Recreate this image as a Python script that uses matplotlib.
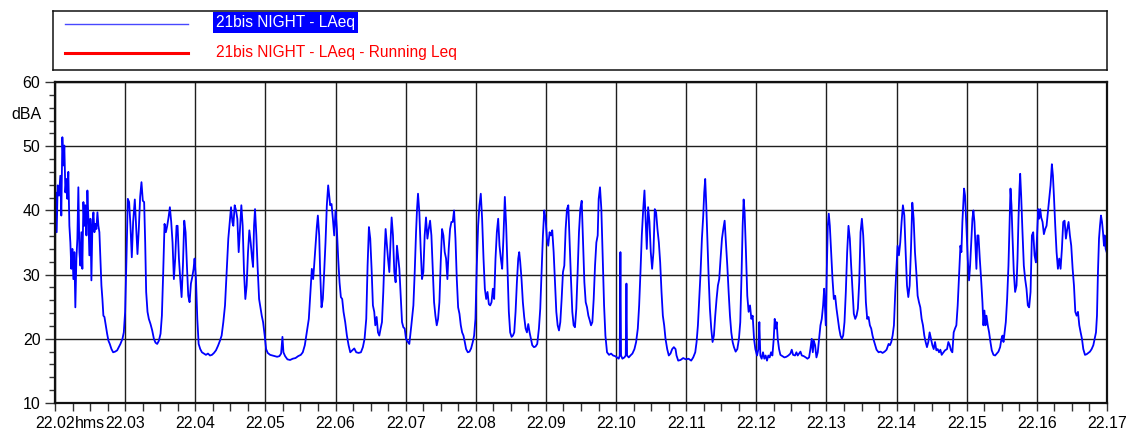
import matplotlib
matplotlib.use("Agg")
import matplotlib.pyplot as plt
from matplotlib.ticker import MultipleLocator
from matplotlib.lines import Line2D
from matplotlib.transforms import blended_transform_factory

plt.rcParams['font.family'] = ['Liberation Sans', 'DejaVu Sans']

series_name = "21bis NIGHT - LAeq"
running_name = "21bis NIGHT - LAeq - Running Leq"
y_unit = "dBA"
time_unit = "hms"
tick_labels = ["22.02", "22.03", "22.04", "22.05", "22.06", "22.07", "22.08", "22.09",
               "22.10", "22.11", "22.12", "22.13", "22.14", "22.15", "22.16", "22.17"]

# elapsed time in minutes after 22.02 and the measured LAeq in dBA
minutes = [
    0.0, 0.01, 0.024, 0.038, 0.057, 0.076, 0.09, 0.105, 0.12, 0.133, 0.148, 0.162, 0.176, 0.19,
    0.205, 0.219, 0.233, 0.248, 0.262, 0.276, 0.29, 0.305, 0.319, 0.333, 0.348, 0.362, 0.376, 0.39,
    0.405, 0.419, 0.433, 0.448, 0.462, 0.476, 0.49, 0.505, 0.519, 0.533, 0.548, 0.562, 0.576, 0.59,
    0.605, 0.619, 0.633, 0.648, 0.662, 0.676, 0.69, 0.705, 0.724, 0.743, 0.762, 0.781, 0.805, 0.829,
    0.857, 0.886, 0.91, 0.933, 0.962, 0.981, 1.0, 1.019, 1.038, 1.057, 1.076, 1.095, 1.114, 1.138,
    1.157, 1.176, 1.195, 1.214, 1.233, 1.252, 1.271, 1.286, 1.3, 1.319, 1.338, 1.362, 1.386, 1.41,
    1.433, 1.457, 1.481, 1.505, 1.524, 1.543, 1.562, 1.581, 1.6, 1.619, 1.638, 1.657, 1.676, 1.695,
    1.714, 1.733, 1.748, 1.767, 1.786, 1.805, 1.824, 1.843, 1.862, 1.881, 1.9, 1.919, 1.938, 1.957,
    1.976, 1.99, 2.01, 2.029, 2.048, 2.071, 2.095, 2.124, 2.152, 2.181, 2.21, 2.238, 2.267, 2.295,
    2.324, 2.352, 2.376, 2.4, 2.424, 2.448, 2.471, 2.495,
    2.51, 2.529, 2.543, 2.562, 2.581, 2.6, 2.619, 2.638, 2.657, 2.676, 2.695, 2.714, 2.733, 2.752,
    2.771, 2.79, 2.81, 2.824, 2.838, 2.852, 2.871, 2.89, 2.91, 2.929, 2.948, 2.967, 2.99, 3.01,
    3.033, 3.067, 3.1, 3.133, 3.167, 3.2, 3.224, 3.243, 3.257, 3.281, 3.314, 3.352, 3.39, 3.429,
    3.467, 3.505, 3.533, 3.562, 3.59, 3.619, 3.643, 3.662, 3.681, 3.695, 3.714, 3.733, 3.748, 3.767,
    3.781, 3.8, 3.819, 3.838, 3.857, 3.876, 3.895, 3.91, 3.924, 3.943, 3.962, 3.981, 4.0, 4.019,
    4.038, 4.057, 4.076, 4.095, 4.114, 4.138, 4.162, 4.186, 4.21, 4.238, 4.267, 4.295, 4.329, 4.362,
    4.39, 4.414, 4.438, 4.457, 4.476, 4.495, 4.514, 4.533, 4.552, 4.567, 4.586, 4.605, 4.624, 4.643,
    4.662, 4.681, 4.7, 4.714, 4.733, 4.748, 4.767, 4.786, 4.8, 4.819, 4.838, 4.857, 4.876, 4.89,
    4.91, 4.929, 4.948, 4.967, 4.986, 5.005,
    5.019, 5.052, 5.081, 5.11, 5.129, 5.148, 5.162, 5.176, 5.195, 5.214, 5.233, 5.252, 5.271, 5.29,
    5.31, 5.329, 5.348, 5.367, 5.386, 5.405, 5.424, 5.443, 5.462, 5.481, 5.5, 5.519, 5.538, 5.557,
    5.576, 5.595, 5.614, 5.633, 5.652, 5.671, 5.69, 5.71, 5.729, 5.748, 5.767, 5.786, 5.805, 5.824,
    5.843, 5.862, 5.886, 5.91, 5.933, 5.957, 5.976, 5.995, 6.014, 6.033, 6.052, 6.071, 6.09, 6.11,
    6.129, 6.148, 6.167, 6.186, 6.205, 6.224, 6.243, 6.262, 6.281, 6.3, 6.319, 6.338, 6.357, 6.376,
    6.395, 6.414, 6.433, 6.452, 6.471, 6.49, 6.51, 6.529, 6.548, 6.567, 6.586, 6.605, 6.619, 6.633,
    6.652, 6.671, 6.69, 6.71, 6.729, 6.748, 6.767, 6.786, 6.805, 6.829, 6.852, 6.876, 6.9, 6.919,
    6.938, 6.957, 6.976, 6.995, 7.014, 7.033, 7.052, 7.071, 7.09, 7.11, 7.129, 7.148, 7.167, 7.186,
    7.205, 7.224, 7.243, 7.262, 7.281, 7.3, 7.319, 7.338, 7.357, 7.376, 7.395, 7.414, 7.433, 7.452,
    7.471, 7.49, 7.51,
    7.529, 7.548, 7.567, 7.586, 7.605, 7.624, 7.643, 7.662, 7.681, 7.7, 7.719, 7.738, 7.752, 7.771,
    7.79, 7.81, 7.829, 7.848, 7.871, 7.9, 7.929, 7.957, 7.986, 8.014, 8.038, 8.052, 8.062, 8.071,
    8.09, 8.119, 8.138, 8.148, 8.157, 8.181, 8.205, 8.233, 8.262, 8.286, 8.31, 8.329, 8.348, 8.367,
    8.386, 8.405, 8.424, 8.438, 8.457, 8.476, 8.495, 8.514, 8.533, 8.552, 8.571, 8.59, 8.61, 8.629,
    8.648, 8.667, 8.686, 8.705, 8.729, 8.752, 8.776, 8.8, 8.824, 8.848, 8.862, 8.886, 8.919, 8.957,
    8.995, 9.033, 9.071, 9.1, 9.129, 9.148, 9.167, 9.186, 9.205, 9.224, 9.243, 9.257, 9.271, 9.286,
    9.3, 9.319, 9.338, 9.357, 9.376, 9.395, 9.414, 9.433, 9.452, 9.471, 9.49, 9.51, 9.529, 9.548,
    9.567, 9.586, 9.605, 9.624, 9.643, 9.662, 9.681, 9.705, 9.729, 9.752, 9.771, 9.79, 9.805, 9.819,
    9.833, 9.852, 9.871, 9.89, 9.91, 9.929, 9.948, 9.967, 9.986,
    10.01, 10.029, 10.043, 10.057, 10.076, 10.095, 10.114, 10.133, 10.152, 10.171, 10.19, 10.21,
    10.229, 10.248, 10.262, 10.276, 10.29, 10.305, 10.324, 10.343, 10.371, 10.4, 10.429, 10.457,
    10.486, 10.505, 10.524, 10.552, 10.571, 10.59, 10.61, 10.629, 10.648, 10.676, 10.705, 10.729,
    10.752, 10.771, 10.79, 10.805, 10.819, 10.838, 10.857, 10.876, 10.895, 10.914, 10.933, 10.952,
    10.967, 10.981, 10.99, 11.005, 11.019, 11.033, 11.048, 11.067, 11.086, 11.105, 11.124, 11.143,
    11.162, 11.181, 11.2, 11.219, 11.238, 11.257, 11.276, 11.295, 11.314, 11.333, 11.352, 11.371,
    11.39, 11.41, 11.429, 11.448, 11.467, 11.486, 11.505, 11.524, 11.543, 11.562, 11.581, 11.6,
    11.619, 11.638, 11.657, 11.676, 11.695, 11.714, 11.743, 11.771, 11.8, 11.829, 11.857, 11.886,
    11.905, 11.924, 11.943, 11.962, 11.981, 12.0, 12.014, 12.033, 12.052, 12.071, 12.09, 12.11,
    12.129, 12.148, 12.167, 12.186, 12.205, 12.224, 12.243, 12.262, 12.281, 12.3, 12.319, 12.338,
    12.357, 12.376, 12.395, 12.414, 12.433, 12.452, 12.471,
    12.51, 12.529, 12.548, 12.567, 12.586, 12.605, 12.624, 12.643, 12.662, 12.69, 12.719, 12.738,
    12.757, 12.776, 12.795, 12.814, 12.833, 12.852, 12.871, 12.89, 12.91, 12.924, 12.938, 12.952,
    12.962, 12.976, 12.995, 13.014, 13.033, 13.048, 13.067, 13.081, 13.095, 13.11, 13.124, 13.138,
    13.152, 13.167, 13.186, 13.205, 13.224, 13.238, 13.252, 13.267, 13.281, 13.3, 13.319, 13.338,
    13.357, 13.381, 13.405, 13.429, 13.452, 13.476, 13.495, 13.51, 13.524, 13.538, 13.557, 13.576,
    13.595, 13.61, 13.624, 13.638, 13.652, 13.671, 13.69, 13.71, 13.724, 13.738, 13.752, 13.762,
    13.776, 13.795, 13.814, 13.833, 13.852, 13.871, 13.89, 13.91, 13.929, 13.948, 13.967, 13.986,
    14.005, 14.019, 14.033, 14.048, 14.062, 14.081, 14.1, 14.119, 14.138, 14.157, 14.176, 14.195,
    14.214, 14.229, 14.243, 14.262, 14.281, 14.3, 14.319, 14.338, 14.357, 14.376, 14.395, 14.414,
    14.433, 14.452, 14.471, 14.49, 14.51, 14.529, 14.548, 14.567, 14.586, 14.605, 14.624, 14.643,
    14.662, 14.686, 14.71, 14.733, 14.757, 14.781, 14.805, 14.824, 14.843, 14.857, 14.871, 14.886,
    14.9, 14.914, 14.929, 14.943, 14.957, 14.967, 14.981, 14.995,
]

laeq = [
    39.7, 42.8, 36.6, 43.9, 42.3, 45.4, 39.2, 51.4, 47.0, 50.1, 42.8, 44.9, 41.8, 46.0,
    37.6, 35.0, 30.9, 34.0, 29.3, 33.5, 24.9, 32.5, 35.6, 43.6, 33.5, 31.4, 36.6, 30.9,
    41.3, 37.6, 40.8, 36.1, 43.1, 38.7, 33.0, 38.7, 29.1, 37.6, 39.7, 36.6, 37.9, 37.1,
    39.7, 37.6, 36.6, 32.5, 28.3, 26.2, 23.6, 23.4, 22.1, 20.8, 19.7, 19.2, 18.4, 17.9,
    18.0, 18.2, 18.7, 19.2, 20.0, 21.0, 24.2, 32.5, 41.8, 41.3, 37.6, 32.7, 38.2, 41.7,
    37.6, 33.2, 37.1, 42.1, 44.4, 41.5, 41.3, 35.0, 27.3, 24.2, 23.1, 22.3, 21.3, 20.0,
    19.4, 19.2, 19.7, 20.8, 23.6, 30.4, 37.9, 36.6, 37.6, 38.9, 40.5, 38.2, 35.0, 29.3,
    32.5, 37.6, 37.6, 32.5, 29.3, 26.5, 31.4, 38.4, 36.6, 31.4, 26.7, 25.7, 28.6, 29.6,
    30.9, 32.5, 29.3, 23.1, 19.2, 18.4, 17.9, 17.7, 17.5, 17.7, 17.4, 17.5, 17.8, 18.2,
    18.9, 19.7, 20.5, 22.6, 25.2, 30.4, 35.6, 38.7,
    40.5, 38.2, 37.6, 40.8, 40.0, 38.7, 33.5, 37.1, 40.8, 37.6, 30.4, 26.2, 28.3, 33.5,
    36.9, 35.0, 32.5, 31.2, 37.6, 40.2, 36.1, 30.9, 26.2, 24.9, 23.6, 22.6, 20.5, 18.4,
    17.8, 17.5, 17.4, 17.3, 17.2, 17.3, 17.7, 20.3, 17.9, 17.3, 16.8, 16.7, 16.9, 17.0,
    17.3, 17.5, 17.9, 19.0, 21.0, 23.1, 27.3, 30.9, 29.3, 31.4, 34.5, 37.4, 39.2, 36.1,
    30.4, 24.9, 26.2, 30.4, 35.0, 40.8, 43.9, 42.3, 40.8, 41.0, 38.7, 36.1, 40.0, 37.1,
    32.5, 28.8, 26.5, 26.2, 24.2, 22.6, 20.5, 19.0, 17.9, 18.2, 18.5, 17.9, 17.8, 17.9,
    18.7, 20.0, 23.1, 31.4, 37.4, 35.6, 30.9, 25.2, 24.2, 22.1, 23.4, 21.0, 20.5, 21.6,
    22.6, 27.3, 33.5, 37.1, 34.5, 32.5, 30.4, 35.6, 38.9, 36.1, 30.4, 28.8, 34.5, 33.0,
    30.9, 26.7, 22.6, 21.8, 21.6, 20.0,
    19.7, 19.2, 22.1, 25.2, 30.4, 36.6, 40.2, 42.6, 39.7, 34.0, 29.3, 30.4, 36.1, 38.9,
    35.6, 37.1, 38.4, 36.1, 30.9, 25.7, 23.6, 22.1, 23.1, 25.7, 32.0, 37.1, 36.1, 33.5,
    32.5, 29.3, 34.0, 37.1, 38.2, 38.2, 40.0, 35.6, 29.3, 24.9, 23.9, 22.1, 21.0, 20.5,
    19.5, 18.4, 17.9, 18.0, 18.5, 19.5, 20.5, 23.1, 31.4, 37.6, 40.8, 42.6, 38.7, 32.5,
    27.8, 26.2, 27.3, 25.4, 25.2, 25.7, 27.8, 26.2, 32.5, 36.6, 38.7, 34.5, 32.5, 30.9,
    36.1, 42.1, 37.6, 30.9, 24.2, 21.0, 20.3, 20.5, 21.0, 24.2, 28.8, 32.5, 33.5, 32.0,
    29.3, 25.7, 23.4, 21.6, 21.0, 22.3, 21.0, 20.0, 19.0, 18.7, 18.8, 19.2, 21.6, 24.7,
    30.4, 36.1, 40.0, 38.7, 35.6, 34.5, 36.6, 36.1, 36.9, 33.5, 28.8, 24.2, 22.1, 21.3,
    22.6, 26.2, 30.4, 31.4, 37.1, 40.2, 40.8, 35.0, 29.3, 24.2, 22.1, 21.8, 24.7, 30.4,
    36.6, 40.2, 41.5,
    35.0, 28.8, 25.7, 24.9, 23.6, 22.9, 22.1, 22.6, 26.2, 31.4, 35.0, 36.1, 41.8, 43.6,
    40.2, 32.5, 25.2, 20.5, 17.9, 17.5, 17.7, 17.4, 17.3, 17.1, 16.9, 17.4, 33.5, 17.4,
    16.9, 17.1, 17.4, 28.6, 17.4, 17.1, 17.4, 17.7, 18.4, 19.5, 21.6, 25.2, 30.4, 36.1,
    40.0, 43.1, 37.6, 34.0, 40.5, 38.2, 33.5, 30.9, 33.5, 40.2, 39.7, 37.1, 35.0, 31.9,
    27.3, 23.6, 22.1, 20.0, 18.4, 17.4, 17.7, 18.4, 18.7, 18.4, 17.4, 16.6, 16.7, 17.0,
    16.8, 16.9, 16.6, 17.1, 17.9, 19.5, 22.1, 26.2, 30.4, 35.6, 39.2, 42.8, 44.9, 40.8,
    36.1, 29.9, 24.7, 21.6, 19.5, 20.5, 23.6, 26.2, 28.3, 29.3, 32.5, 35.6, 37.1, 38.4,
    35.0, 31.4, 27.3, 23.6, 21.0, 19.5, 18.7, 18.0, 18.4, 20.0, 22.6, 30.4, 37.6, 41.7,
    39.7, 33.5, 26.7, 24.2, 25.2, 23.1, 23.6, 20.0, 18.4,
    17.4, 18.4, 22.6, 17.4, 16.9, 17.9, 16.9, 17.4, 16.6, 17.4, 17.1, 17.9,
    17.4, 20.0, 23.1, 21.6, 22.6, 20.0, 18.4, 17.5, 17.3, 17.1, 17.2, 17.4,
    17.7, 18.3, 17.5, 17.4, 17.9, 17.4, 17.7, 18.0, 17.4, 17.3, 17.1, 16.9,
    17.1, 18.4, 20.0, 17.9, 19.7, 19.0, 17.1, 17.9, 20.0, 22.1, 23.1, 25.2,
    27.8, 24.2, 22.1, 30.9, 37.6, 39.5, 37.6, 33.5, 29.3, 26.2, 26.7, 24.7,
    23.1, 21.6, 20.5, 20.0, 20.5, 22.6, 27.3, 33.5, 37.6, 35.6, 31.4, 27.8,
    23.9, 23.1, 23.6, 24.7, 28.8, 36.6, 38.7, 36.1, 31.4, 25.7, 23.1, 23.4,
    22.1, 21.6, 20.5, 19.7, 19.0, 18.3, 17.9, 18.0, 17.8, 18.0, 18.3, 19.2,
    19.0, 19.5, 20.5, 22.1, 27.3, 31.4, 34.5, 33.0, 35.0, 38.2, 40.8, 39.2,
    33.5, 28.3, 26.5, 28.3, 34.0, 41.2, 38.7, 33.5, 30.4, 26.7, 25.7, 24.9,
    23.1, 22.1, 20.5, 19.5, 18.7, 19.5, 21.0,
    19.0, 18.4, 19.5, 18.2, 18.4, 17.9, 18.3, 17.5, 17.8, 18.2, 18.4, 19.5,
    19.0, 18.2, 17.9, 21.0, 21.6, 22.1, 25.2, 29.9, 34.5, 33.5, 38.2, 41.3,
    43.4, 42.3, 37.6, 32.5, 29.1, 31.4, 35.6, 38.7, 40.0, 38.2, 34.5, 30.9,
    36.1, 36.1, 32.5, 29.3, 25.7, 22.1, 24.4, 22.1, 23.6, 22.1, 21.0, 19.5,
    18.2, 17.5, 17.4, 17.7, 18.0, 18.7, 20.0, 20.5, 19.5, 20.8, 22.6, 26.2,
    31.4, 37.6, 43.4, 40.8, 36.1, 30.4, 27.3, 28.3, 32.5, 38.7, 43.4, 45.7,
    42.3, 36.6, 31.4, 29.3, 27.8, 25.2, 24.9, 27.3, 36.1, 36.6, 33.0, 31.9,
    36.6, 40.2, 38.7, 40.2, 38.9, 38.2, 36.3, 37.1, 37.6, 39.7, 41.8, 43.9,
    47.2, 45.4, 42.3, 37.6, 33.5, 30.9, 32.5, 30.9, 34.0, 38.2, 38.4, 35.6,
    37.1, 38.2, 36.1, 34.5, 30.9, 28.3, 24.2, 23.6, 24.2, 22.1, 21.0, 20.0,
    18.4, 17.5, 17.6, 17.8, 18.0, 18.4, 19.0, 20.0, 21.0, 23.6, 30.4, 35.6,
    37.6, 39.2, 38.2, 36.6, 34.5, 36.1, 34.0, 33.5,
]

W, H, DPI = 1129, 437, 100
TICK_FS = 11.5
LEGEND_FS = 11.2
fig = plt.figure(figsize=(W / DPI, H / DPI), dpi=DPI)

# main plot area
ax = fig.add_axes([55 / W, 34 / H, 1052 / W, 321 / H])
ax.plot(minutes, laeq, color='#0000FF', lw=1.3, solid_joinstyle='round')
ax.set_xlim(0, len(tick_labels) - 1)
ax.set_ylim(10, 60)

ax.set_xticks(range(len(tick_labels)))
ax.set_xticklabels(tick_labels)
ax.xaxis.set_minor_locator(MultipleLocator(0.25))
ax.yaxis.set_major_locator(MultipleLocator(10))
ax.yaxis.set_minor_locator(MultipleLocator(2))

ax.grid(True, which='major', color='#1e1e1e', lw=1.0)
ax.set_axisbelow(True)
ax.tick_params(axis='x', which='both', direction='out', length=5.5, width=1.0,
               pad=4, labelsize=TICK_FS, color='#333333')
ax.tick_params(axis='y', which='major', direction='out', length=7.5, width=1.0,
               pad=3, labelsize=TICK_FS, color='#333333')
ax.tick_params(axis='y', which='minor', direction='out', length=4.5, width=1.0, color='#333333')
for s in ax.spines.values():
    s.set_linewidth(1.6)
    s.set_color('#111111')

# unit labels
ax.text(-14 / 1052, 55, y_unit, transform=blended_transform_factory(ax.transAxes, ax.transData),
        ha='right', va='center', fontsize=TICK_FS)
first_label = ax.get_xticklabels()[0]
ax.annotate(time_unit, xy=(1, 0), xycoords=first_label, ha='left', va='bottom', fontsize=TICK_FS)

# legend panel
lax = fig.add_axes([53 / W, (H - 70) / H, 1054 / W, 59 / H])
lax.set_xticks([])
lax.set_yticks([])
for s in lax.spines.values():
    s.set_linewidth(1.1)
    s.set_color('#111111')
lax.add_line(Line2D([12 / 1054, 135 / 1054], [0.78, 0.78], color='#4848FF', lw=1.0,
                    transform=lax.transAxes))
lax.add_line(Line2D([12 / 1054, 135 / 1054], [0.29, 0.29], color='#FF0000', lw=2.2,
                    transform=lax.transAxes))
lax.text(163 / 1054, 0.80, series_name, transform=lax.transAxes, ha='left', va='center',
         fontsize=LEGEND_FS, color='white',
         bbox=dict(boxstyle='square,pad=0.2', fc='#0000FF', ec='none'))
lax.text(163 / 1054, 0.29, running_name, transform=lax.transAxes, ha='left', va='center',
         fontsize=LEGEND_FS, color='#FF0000')

fig.savefig('out.png', dpi=DPI)
